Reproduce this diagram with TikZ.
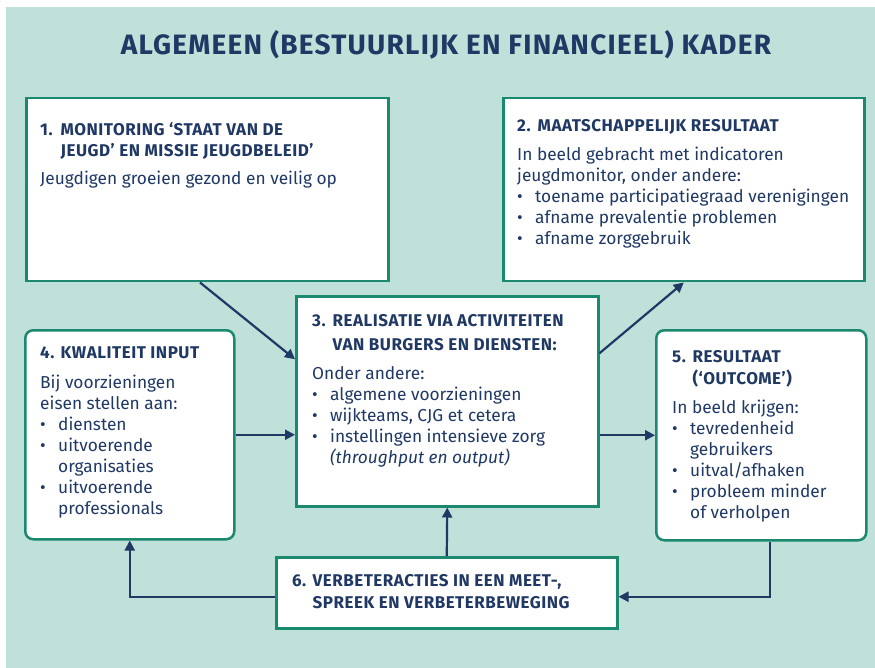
\documentclass[tikz,border=0pt]{standalone}
\usepackage{fontspec}
\setmainfont{Fira Sans}
\usetikzlibrary{arrows.meta}

\definecolor{achtergrond}{RGB}{192,224,218}
\definecolor{randgroen}{RGB}{27,136,112}
\definecolor{donkerblauw}{RGB}{31,56,100}

\newcommand{\kop}[1]{{\fontsize{17}{22}\bfseries\addfontfeatures{LetterSpace=3}\selectfont #1}}
\newcommand{\nr}[1]{\makebox[20.5pt][l]{#1}}
\newcommand{\bul}{\makebox[18pt][l]{•}}

\begin{document}
\begin{tikzpicture}[x=1pt,y=-1pt,
	panel/.style={draw=randgroen,line width=2.5pt,fill=white,inner sep=0pt,anchor=north west},
	roundpanel/.style={panel,rounded corners=8pt},
	txt/.style={anchor=north west,inner sep=0pt,align=left,text=donkerblauw,font=\fontsize{17.3}{21}\selectfont},
	flow/.style={draw=donkerblauw,line width=2.2pt,-{Triangle[length=10pt,width=10pt]}}]

	\useasboundingbox (0,0) rectangle (875,668);
	\fill[achtergrond] (6,7) rectangle (875,668);

	\node[anchor=base,text=donkerblauw,font=\fontsize{28}{32}\bfseries\addfontfeatures{LetterSpace=4.5}\selectfont] (titel) at (446,55) {ALGEMEEN (BESTUURLIJK EN FINANCIEEL) KADER};

	% de zes blokken
	\node[panel,minimum width=362pt,minimum height=183pt] (monitor) at (25,97) {};
	\node[panel,minimum width=361pt,minimum height=183pt] (maatschap) at (502,97) {};
	\node[panel,minimum width=302pt,minimum height=210pt] (realisatie) at (295,295) {};
	\node[roundpanel,minimum width=209pt,minimum height=209pt] (kwaliteit) at (24,329) {};
	\node[roundpanel,minimum width=210pt,minimum height=210pt] (resultaat) at (655,329) {};
	\node[panel,minimum width=341pt,minimum height=71pt] (verbeter) at (275,556) {};

	% teksten
	\node[txt] (monitortxt) at (40,122) {\kop{\nr{1.}MONITORING ‘STAAT VAN DE}\\
		\kop{\nr{}JEUGD’ EN MISSIE JEUGDBELEID’}\\[7pt]
		Jeugdigen groeien gezond en veilig op};
	\node[txt] (maatschaptxt) at (517,119) {\kop{\nr{2.}MAATSCHAPPELIJK RESULTAAT}\\[8pt]
		In beeld gebracht met indicatoren\\
		jeugdmonitor, onder andere:\\
		\bul toename participatiegraad verenigingen\\
		\bul afname prevalentie problemen\\
		\bul afname zorggebruik};
	\node[txt] (realisatietxt) at (312,314) {\kop{\nr{3.}REALISATIE VIA ACTIVITEITEN}\\[3pt]
		\kop{\nr{}VAN BURGERS EN DIENSTEN:}\\[8pt]
		Onder andere:\\
		\bul algemene voorzieningen\\
		\bul wijkteams, CJG et cetera\\
		\bul instellingen intensieve zorg\\
		\hspace*{18pt}\textit{(throughput en output)}};
	\node[txt] (kwaliteittxt) at (40,347) {\kop{\nr{4.}KWALITEIT INPUT}\\[9pt]
		Bij voorzieningen\\
		eisen stellen aan:\\
		\bul diensten\\
		\bul uitvoerende\\
		\hspace*{18pt}organisaties\\
		\bul uitvoerende\\
		\hspace*{18pt}professionals};
	\node[txt] (resultaattxt) at (672,350) {\kop{\nr{5.}RESULTAAT}\\[1pt]
		\kop{\nr{}(‘OUTCOME’)}\\[8pt]
		In beeld krijgen:\\
		\bul tevredenheid\\
		\hspace*{18pt}gebruikers\\
		\bul uitval/afhaken\\
		\bul probleem minder\\
		\hspace*{18pt}of verholpen};
	\node[txt] (verbetertxt) at (292,574) {\kop{\nr{6.}VERBETERACTIES IN EEN MEET-,}\\[1pt]
		\kop{\nr{}SPREEK EN VERBETERBEWEGING}};

	% pijlen
	\draw[flow] ([xshift=175pt]monitor.south west) -- ([yshift=42pt]realisatie.west);
	\draw[flow] ([yshift=48pt]realisatie.east) -- (maatschap.south);
	\draw[flow] (kwaliteit.east) -- (kwaliteit.east -| realisatie.west);
	\draw[flow] (realisatie.east |- resultaat.west) -- (resultaat.west);
	\draw[flow] (verbeter.north) -- (realisatie.south);
	\draw[flow] ([xshift=9pt]resultaat.south) |- ([yshift=-4pt]verbeter.east);
	\draw[flow] ([yshift=-4pt]verbeter.west) -| (kwaliteit.south);

\end{tikzpicture}
\end{document}
